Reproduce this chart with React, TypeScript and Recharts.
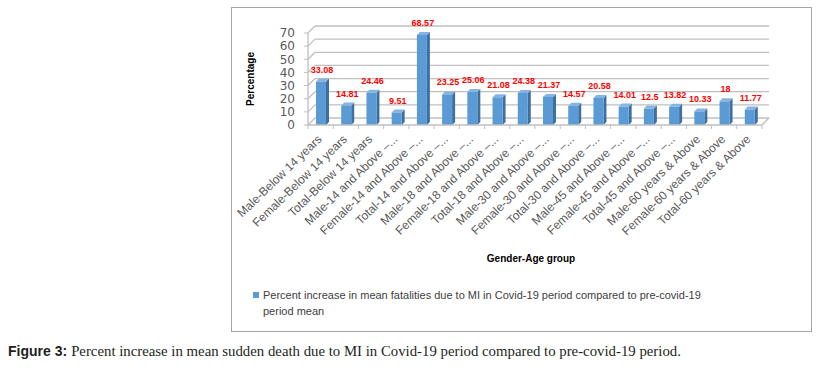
import { BarChart, Bar, XAxis, YAxis, CartesianGrid, LabelList } from 'recharts';

const categories = [
    'Male-Below 14 years',
    'Female-Below 14 years',
    'Total-Below 14 years',
    'Male-14 and Above –...',
    'Female-14 and Above –...',
    'Total-14 and Above –...',
    'Male-18 and Above –...',
    'Female-18 and Above –...',
    'Total-18 and Above –...',
    'Male-30 and Above –...',
    'Female-30 and Above –...',
    'Total-30 and Above –...',
    'Male-45 and Above –...',
    'Female-45 and Above –...',
    'Total-45 and Above –...',
    'Male-60 years & Above',
    'Female-60 years & Above',
    'Total-60 years & Above',
];

const increases = [
    33.08, 14.81, 24.46, 9.51, 68.57, 23.25, 25.06, 21.08, 24.38, 21.37, 14.57, 20.58, 14.01, 12.5, 13.82, 10.33, 18,
    11.77,
];

const yTicks = [0, 10, 20, 30, 40, 50, 60, 70];

const legendText =
    'Percent increase in mean fatalities due to MI in Covid-19 period compared to pre-covid-19 period mean';

const data = categories.map((group, i) => ({ group, increase: increases[i] }));

const PLOT_LEFT = 308;
const PLOT_RIGHT = 762;
const PLOT_TOP = 33;
const PLOT_BOTTOM = 125;
const WALL_DEPTH = 7;
const BAR_DEPTH = 3;
const GRID = '#BFBFBF';
const TEXT = '#595959';
const FRONT = '#5B9BD5';
const SIDE = '#3F6F9F';
const TOP = '#86B4E2';
const SANS = "'Liberation Sans', Arial, sans-serif";
const HALF_STEP = (PLOT_RIGHT - PLOT_LEFT) / categories.length / 2;

function GridLine(props: any) {
    const { x1, x2, y1 } = props;
    const isFloor = Math.abs(y1 - PLOT_BOTTOM) < 1;
    const d = WALL_DEPTH;
    return (
        <g stroke={GRID} strokeWidth={1.3}>
            <line x1={x1} y1={y1} x2={x1 + d} y2={y1 - d} />
            <line x1={x1 + d} y1={y1 - d} x2={x2 + d} y2={y1 - d} />
            {isFloor && <line x1={x2} y1={y1} x2={x2 + d} y2={y1 - d} />}
        </g>
    );
}

function Bar3D(props: any) {
    const { x, y, width, height } = props;
    if (!height) return null;
    const d = BAR_DEPTH;
    return (
        <g>
            <polygon
                points={`${x + width},${y} ${x + width + d},${y - d} ${x + width + d},${y + height - d} ${x + width},${y + height}`}
                fill={SIDE}
            />
            <polygon points={`${x},${y} ${x + d},${y - d} ${x + width + d},${y - d} ${x + width},${y}`} fill={TOP} />
            <rect x={x} y={y} width={width} height={height} fill={FRONT} />
        </g>
    );
}

function ValueLabel(props: any) {
    const { x, y, width, value } = props;
    return (
        <text
            x={x + width / 2 + 1}
            y={y - 12}
            textAnchor="middle"
            dominantBaseline="central"
            fill="#FF0000"
            fontSize={9}
            fontWeight="bold"
            fontFamily={SANS}
        >
            {value}
        </text>
    );
}

function CategoryTick(props: any) {
    const { x, y, payload, index } = props;
    const tx = x + 2;
    const ty = y + 15;
    return (
        <g>
            <line x1={x - HALF_STEP} y1={y} x2={x - HALF_STEP} y2={y + 4} stroke={GRID} />
            {index === categories.length - 1 && (
                <line x1={x + HALF_STEP} y1={y} x2={x + HALF_STEP} y2={y + 4} stroke={GRID} />
            )}
            <text
                x={tx}
                y={ty}
                transform={`rotate(-44, ${tx}, ${ty})`}
                textAnchor="end"
                fill={TEXT}
                fontSize={12}
                fontFamily={SANS}
            >
                {payload.value}
            </text>
        </g>
    );
}

function YTitle({ viewBox }: any) {
    const cx = viewBox.x - 18;
    const cy = viewBox.y + viewBox.height / 2;
    return (
        <text
            x={cx}
            y={cy}
            transform={`rotate(-90, ${cx}, ${cy})`}
            textAnchor="middle"
            dominantBaseline="central"
            fill="#000"
            fontSize={10}
            fontWeight="bold"
            fontFamily={SANS}
        >
            Percentage
        </text>
    );
}

function XTitle({ viewBox }: any) {
    const cx = viewBox.x + viewBox.width / 2 - 4;
    return (
        <text
            x={cx}
            y={258}
            textAnchor="middle"
            dominantBaseline="central"
            fill="#000"
            fontSize={10}
            fontWeight="bold"
            fontFamily={SANS}
        >
            Gender-Age group
        </text>
    );
}

export default function App() {
    return (
        <div style={{ position: 'absolute', left: 0, top: 0, width: 818, height: 380, background: '#fff' }}>
            <div
                style={{
                    position: 'absolute',
                    left: 231,
                    top: 7,
                    width: 579,
                    height: 323,
                    border: '1px solid #A6A6A6',
                }}
            />
            <div style={{ position: 'absolute', left: 0, top: 0 }}>
                <BarChart
                    width={818}
                    height={380}
                    data={data}
                    margin={{ top: PLOT_TOP, right: 818 - PLOT_RIGHT, left: PLOT_LEFT - 40, bottom: 115 }}
                >
                    <CartesianGrid vertical={false} horizontal={GridLine} />
                    <XAxis
                        dataKey="group"
                        interval={0}
                        height={140}
                        tickLine={false}
                        tickSize={0}
                        tickMargin={0}
                        axisLine={{ stroke: GRID, strokeWidth: 1.3 }}
                        tick={CategoryTick}
                        label={XTitle}
                    />
                    <YAxis
                        width={40}
                        domain={[0, 70]}
                        ticks={yTicks}
                        interval={0}
                        tickSize={4}
                        tickMargin={9}
                        tickLine={{ stroke: GRID }}
                        axisLine={{ stroke: GRID, strokeWidth: 1.3 }}
                        tick={{ fill: TEXT, fontSize: 12, fontFamily: "'DejaVu Sans', sans-serif" }}
                        label={YTitle}
                    />
                    <Bar dataKey="increase" barSize={10} shape={Bar3D} isAnimationActive={false}>
                        <LabelList dataKey="increase" content={ValueLabel} />
                    </Bar>
                </BarChart>
            </div>
            <div
                style={{
                    position: 'absolute',
                    left: 253,
                    top: 287,
                    width: 460,
                    fontFamily: SANS,
                    fontSize: 11,
                    lineHeight: '16px',
                    color: '#404040',
                    paddingLeft: 10,
                }}
            >
                <span
                    style={{
                        position: 'absolute',
                        left: 0,
                        top: 5,
                        width: 6,
                        height: 6,
                        background: FRONT,
                    }}
                />
                {legendText}
            </div>
            <div
                style={{
                    position: 'absolute',
                    left: 8,
                    top: 342,
                    color: '#231F20',
                    whiteSpace: 'nowrap',
                }}
            >
                <span
                    style={{
                        fontFamily: "'Liberation Sans Narrow', 'Liberation Sans', Arial, sans-serif",
                        fontWeight: 'bold',
                        fontStretch: 'condensed',
                        fontSize: 14,
                    }}
                >
                    Figure 3:
                </span>{' '}
                <span style={{ fontFamily: "'Liberation Serif', 'Times New Roman', serif", fontSize: 14.8 }}>
                    Percent increase in mean sudden death due to MI in Covid-19 period compared to pre-covid-19 period.
                </span>
            </div>
        </div>
    );
}
